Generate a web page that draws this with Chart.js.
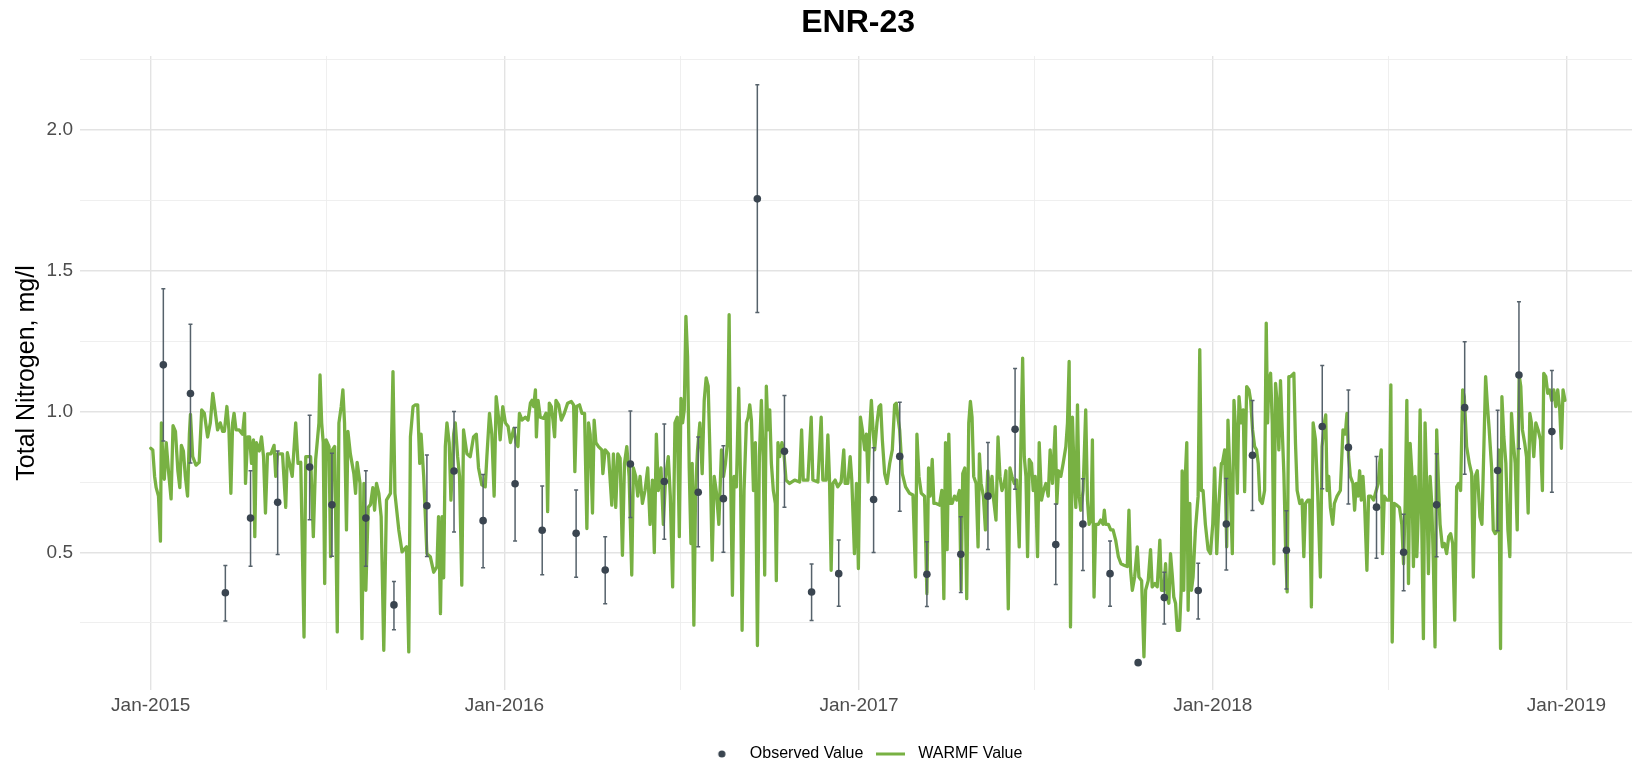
<!DOCTYPE html>
<html>
<head>
<meta charset="utf-8">
<script src="https://cdn.jsdelivr.net/npm/chart.js@4.4.1/dist/chart.umd.min.js"></script>
<style>
  html, body { margin: 0; padding: 0; background: #ffffff; overflow: hidden; }
  #wrap { width: 1632px; height: 762px; overflow: hidden; position: relative; }
  canvas { display: block; }
</style>
</head>
<body>
<div id="wrap"><canvas id="chart" width="1640" height="772"></canvas></div>
<script>
// ---------- DATA (days since 2015-01-01) ----------
const chartTitle = 'ENR-23';
const yAxisTitle = 'Total Nitrogen, mg/l';
const legendLabels = ['Observed Value', 'WARMF Value'];

const xTickDays = [0, 365, 731, 1096, 1461];
const xTickLabels = ['Jan-2015', 'Jan-2016', 'Jan-2017', 'Jan-2018', 'Jan-2019'];
const xMinorDays = [181, 547, 912, 1277];
const yTickValues = [0.5, 1.0, 1.5, 2.0];
const yMinorValues = [0.25, 0.75, 1.25, 1.75, 2.25];

const obsDays = [13, 41, 77, 103, 131, 164, 187, 222, 251, 285, 313, 343, 376, 404, 439, 469, 495, 530, 565, 591,
  626, 654, 682, 710, 746, 773, 801, 836, 864, 892, 934, 962, 990, 1019, 1046, 1081, 1110, 1137, 1172, 1209,
  1236, 1265, 1293, 1327, 1356, 1390, 1412, 1446];
const obsValues = [1.166, 1.064, 0.357, 0.622, 0.678, 0.803, 0.669, 0.622, 0.314, 0.666, 0.789, 0.613, 0.744, 0.579, 0.568, 0.438, 0.814, 0.752, 0.714, 0.691,
  1.755, 0.859, 0.360, 0.425, 0.688, 0.841, 0.423, 0.494, 0.700, 0.937, 0.528, 0.601, 0.425, 0.109, 0.340, 0.365, 0.601, 0.845, 0.508, 0.947,
  0.873, 0.661, 0.501, 0.669, 1.014, 0.791, 1.130, 0.929];
const obsLower = [0.896, 0.818, 0.257, 0.451, 0.493, 0.616, 0.487, 0.451, 0.226, 0.486, 0.573, 0.446, 0.541, 0.421, 0.412, 0.318, 0.624, 0.547, 0.520, 0.501,
  1.352, 0.661, 0.259, 0.309, 0.500, 0.646, 0.308, 0.358, 0.511, 0.724, 0.386, 0.436, 0.309, null, 0.246, 0.264, 0.438, 0.649, 0.370, 0.726,
  0.672, 0.480, 0.364, 0.485, 0.778, 0.577, 0.868, 0.714];
const obsUpper = [1.436, 1.310, 0.454, 0.790, 0.860, 0.987, 0.852, 0.790, 0.397, 0.846, 1.000, 0.777, 0.944, 0.736, 0.722, 0.556, 1.002, 0.956, 0.910, 0.879,
  2.160, 1.057, 0.459, 0.544, 0.872, 1.033, 0.538, 0.627, 0.890, 1.153, 0.672, 0.762, 0.541, null, 0.430, 0.462, 0.763, 1.039, 0.648, 1.164,
  1.077, 0.841, 0.636, 0.850, 1.248, 1.005, 1.390, 1.146];

// WARMF simulated series: [day, value]
const warmfSeries = [
[0,0.87],[2.1,0.864],[4,0.77],[5.6,0.73],[8,0.70],[10,0.54],[11,0.96],[12.4,0.84],[14,0.76],[16,0.89],[18.3,0.79],[21,0.69],[23,0.95],[25.5,0.93],[28,0.79],[30,0.73],[31.6,0.88],[33.7,0.86],[35.7,0.77],[38,0.70],
[39.9,0.92],[41,0.99],[43.3,0.84],[46.7,0.81],[50,0.82],[52.6,1.006],[55.3,0.994],[58.7,0.91],[61.5,0.96],[64,1.065],[66.3,1.006],[69,0.935],[71.8,0.96],[74.2,0.93],[76,0.93],[78.6,1.018],[80.7,0.935],[82.7,0.71],[84.5,0.96],[86,0.994],
[88,0.935],[91.3,0.935],[94.7,0.92],[96.8,0.994],[97.8,0.745],[100,0.91],[102,0.91],[104,0.816],[106,0.90],[107.4,0.556],[109,0.89],[112,0.86],[114.3,0.91],[116.4,0.84],[118.4,0.64],[120.5,0.85],[124,0.85],[127.3,0.88],[129,0.77],[130.8,0.85],
[136,0.85],[139.3,0.66],[141,0.854],[146,0.77],[149.6,0.96],[152,0.816],[154.8,0.82],[158.2,0.20],[160,0.84],[165,0.84],[167.8,0.556],[170.2,0.83],[173.6,0.96],[174.7,1.13],[176.4,0.96],[178,0.89],[179.5,0.39],[181,0.90],[184,0.876],[185.6,0.485],
[187.4,0.864],[189.8,0.876],[192.5,0.218],[194.2,0.96],[196.6,1.018],[198.3,1.077],[200,0.96],[202,0.58],[203.5,0.93],[206,0.85],[209.6,0.78],[211.4,0.71],[213,0.82],[216,0.745],[218,0.194],[220,0.745],[222,0.366],[224.4,0.66],[226.8,0.67],[229.2,0.73],
[231,0.65],[233,0.745],[235.4,0.71],[237.8,0.627],[240.5,0.153],[243.3,0.686],[247.4,0.71],[250,1.142],[252,0.71],[256,0.58],[259.4,0.502],[264,0.52],[266.3,0.147],[268,0.91],[270.7,1.018],[273.1,1.024],[275.5,1.024],[277.6,0.816],[279,0.92],[281.7,0.77],
[285,0.496],[288.5,0.485],[292,0.43],[295.4,0.45],[297,0.627],[299,0.283],[300.6,0.627],[302.3,0.41],[304,0.876],[305.7,0.96],[308,0.89],[309.8,0.686],[312.6,0.92],[314.3,0.96],[316.7,0.84],[318.7,0.77],[321,0.384],[322.8,0.935],[326.3,0.85],[329.7,0.84],
[333.1,0.91],[336,0.92],[338.3,0.80],[341.7,0.74],[345.2,0.733],[346.9,0.84],[349.6,0.994],[352,0.92],[354.4,0.70],[356.5,1.053],[358.9,0.98],[360.6,0.90],[363.3,1.018],
[366,0.96],[368.8,0.947],[371.2,0.89],[374.6,0.94],[377,0.89],[379,0.876],[380.5,0.994],[383.2,0.97],[386.6,0.98],[389.4,0.97],[391.8,1.03],[393.5,1.04],[395.2,1.018],[397,1.077],[398,0.91],[399.7,1.04],[402,0.98],[405.5,0.976],[407.9,0.994],[409.6,0.645],
[411.3,1.03],[413.4,1.018],[415.1,0.97],[416.8,0.91],[418.2,1.04],[421,1.024],[423.7,0.97],[426.8,0.994],[430.2,1.03],[434,1.036],[436.4,1.024],[437.7,0.787],[439.5,1.018],[442.5,1.024],[445,0.994],[447.7,0.994],[450.1,0.585],[451.8,0.96],[453.5,0.92],[455.9,0.64],
[457.6,0.97],[459.4,0.89],[462.1,0.876],[465.5,0.864],[466.6,0.78],[469,0.864],[472.4,0.85],[475.8,0.668],[477.5,0.85],[479.9,0.66],[482,0.85],[484.4,0.834],[486.8,0.49],[488.9,0.816],[491.3,0.876],[493.7,0.77],[496.4,0.42],[498.1,0.80],[500.5,0.77],[502.6,0.70],
[505,0.77],[507.4,0.674],[510.1,0.72],[512.9,0.80],[515.3,0.60],[517.7,0.757],[519.7,0.50],[521.8,0.92],[523.8,0.72],[526.6,0.80],[529,0.60],[531.4,0.77],[534.1,0.84],[536.2,0.70],[538.6,0.378],[541,0.96],[543.4,0.98],[545.5,0.556],[547.2,1.047],[548.9,0.96],
[550.6,1.006],[552.3,1.338],[554,1.195],[555.7,0.80],[557.5,0.532],[558.8,0.816],[560.5,0.242],[562.3,0.72],[564.3,0.864],[566.7,0.96],[569.1,0.78],[571.2,1.04],[573.2,1.12],[575.3,1.09],[577.4,0.816],[579.4,0.473],[581.5,0.77],[583.9,0.71],[586.3,0.60],[589,0.864],
[591.1,0.77],[593.1,0.816],[595.2,0.89],[596.9,1.344],[598.6,0.745],[600.3,0.348],[602,0.77],[604.4,0.733],[606.8,1.083],[608.6,0.77],[610.3,0.224],[612.3,0.72],[614.7,0.96],[616.5,0.98],[618.2,1.024],[619.9,0.97],[622,0.72],[624,0.89],[626.1,0.17],[628.1,0.84],
[630.2,1.04],[632.2,0.816],[633.6,0.42],[635.3,1.09],[637,0.935],[638.8,1.006],[640.5,0.816],[642.5,0.72],[644.6,0.674],[645.6,0.40],[647.3,0.89],[649,0.84],[651.4,0.89],[653.5,0.85],[655.6,0.757],[659.3,0.745],[664.5,0.757],[669.6,0.75],[671.7,0.935],[673.4,0.757],
[678.2,0.757],[681.6,0.98],[683.3,0.757],[688.5,0.75],[691.9,0.98],[693.6,0.757],[697,0.757],[698.8,0.917],[700.5,0.757],[702.2,0.437],[703.9,0.745],[706.3,0.757],[709,0.733],[712.5,0.75],[715.2,0.864],[716.6,0.745],[719.4,0.745],[721.8,0.84],[723.5,0.757],[726.2,0.496],
[728.3,0.745],[730.3,0.443],[732.4,0.98],[734.4,0.935],
[736.8,0.864],[738.6,0.92],[740.3,0.75],[742,0.935],[743.7,1.04],[745.4,0.935],[747.1,0.864],[749.5,0.96],[751.6,1.018],[753.3,1.024],[755,0.90],[757.4,0.78],[759.8,0.745],[762.6,0.816],[765.3,0.864],[767.7,1.024],[769.4,1.03],[771.1,0.98],[772.9,0.935],[775.6,0.78],
[779,0.733],[783.1,0.71],[786.6,0.704],[789.3,0.413],[790.7,0.92],[792.8,0.77],[795.2,0.71],[798.6,0.70],[801,0.354],[802.7,0.80],[804.4,0.70],[806.5,0.83],[808.2,0.674],[810.6,0.674],[814,0.668],[816.4,0.72],[818.5,0.336],[820.2,0.89],[821.9,0.51],[823.6,0.92],
[825.3,0.674],[827,0.674],[829.5,0.70],[831.9,0.686],[834.6,0.72],[836.3,0.366],[838,0.78],[840.1,0.80],[842.1,0.336],[844.2,0.96],[845.9,1.036],[847.6,0.98],[849.3,0.77],[851.8,0.745],[853.8,0.52],[855.2,0.85],[856.9,0.745],[859.3,0.70],[861.4,0.58],[863.8,0.79],
[866.1,0.70],[868.2,0.77],[869.9,0.686],[872.3,0.615],[874.4,0.91],[876.4,0.77],[878.5,0.72],[880.9,0.745],[882.6,0.79],[885,0.30],[886.7,0.80],[888.8,0.77],[891.2,0.745],[893.6,0.757],[896.3,0.52],[898.1,0.90],[899.8,1.19],[901.5,0.84],[903.2,0.77],[904.9,0.485],
[906.6,0.83],[909,0.816],[910.7,0.72],[912.8,0.77],[915.2,0.485],[916.9,0.89],[919.3,0.686],[921.4,0.72],[923.8,0.745],[926.2,0.70],[928.2,0.864],[930.6,0.745],[933.4,0.947],[935.1,0.674],[936.8,0.79],[939.2,0.77],[941.6,0.816],[944.4,0.876],[946.1,0.96],[947.8,1.178],
[949.2,0.236],[951.2,0.98],[953,0.77],[954.7,0.66],[956.4,1.024],[958.1,0.70],[959.8,0.65],[962.2,0.72],[964.9,1.006],[966.7,0.686],[968.4,0.60],[970.4,0.615],[971.8,0.90],[973.5,0.342],[975.2,0.60],[978,0.60],[980.4,0.615],[982.8,0.60],[984.1,0.65],[985.5,0.60],
[988.3,0.60],[990.7,0.58],[993.1,0.58],[995.8,0.544],[998.6,0.485],[1001.3,0.46],[1004.4,0.455],[1007.8,0.45],[1009.5,0.65],[1011.2,0.437],[1013,0.366],[1015.4,0.413],[1018.1,0.52],[1019.8,0.413],[1022.6,0.40],[1025,0.13],[1026.7,0.366],[1029.4,0.40],[1031.8,0.51],[1033.5,0.378],
[1036.3,0.39],[1038.7,0.378],[1041.4,0.544],[1043.1,0.366],[1045.5,0.366],[1047.3,0.46],[1049,0.342],[1050.7,0.32],[1052.4,0.496],[1054.1,0.425],[1055.8,0.342],[1057.6,0.32],[1059.3,0.224],[1061.7,0.224],[1063.4,0.366],[1064.4,0.79],[1066.1,0.366],[1067.8,0.78],[1069.2,0.89],[1070.6,0.295],
[1072.3,0.674],[1074,0.366],[1075.7,0.413],[1078.1,0.58],[1080.9,0.70],[1082.6,1.22],[1084.3,0.72],[1086,0.72],[1088.4,0.60],[1091.2,0.51],[1093.6,0.496],[1096,0.60],[1098,0.80],[1100.1,0.496],[1102.1,0.66],[1104.9,0.816],
[1105.9,0.816],[1108.3,0.864],[1110.4,0.52],[1111.7,0.97],[1113.8,0.77],[1116.2,0.496],[1117.9,1.04],[1119.6,0.935],[1121.4,0.71],[1123.1,1.053],[1125.5,0.96],[1127.5,1.006],[1128.9,0.716],[1131,1.089],[1133.4,1.077],[1135.1,1.04],[1137.1,0.935],[1139.2,0.876],[1141.2,0.864],[1142.9,0.816],
[1144.7,0.686],[1147.1,0.674],[1149.5,0.72],[1151.2,1.314],[1152.6,0.96],[1153.9,1.11],[1155.7,1.136],[1157.4,0.96],[1159.1,0.46],[1160.8,1.10],[1162.5,1.03],[1164.2,0.864],[1165.9,1.11],[1167.7,0.935],[1169.4,0.78],[1171.4,0.485],[1172.8,0.36],[1174.5,1.124],[1176.2,1.124],[1178,1.13],
[1179.7,1.136],[1181.4,0.887],[1183.1,0.72],[1185.8,0.674],[1188.2,0.686],[1190,0.485],[1191.7,0.674],[1194.1,0.686],[1196.1,0.686],[1197.8,0.307],[1199.6,0.96],[1202,0.90],[1204.4,0.70],[1207.1,0.413],[1208.8,0.876],[1211.2,0.96],[1212.6,0.988],[1214,0.72],[1215.7,0.77],[1217.4,0.66],
[1219.8,0.60],[1221.5,0.674],[1224.3,0.70],[1227.7,0.72],[1230.4,0.935],[1232.8,0.92],[1234.5,0.994],[1236.2,0.84],[1238,0.77],[1240.7,0.745],[1242.4,0.65],[1244.1,0.745],[1245.9,0.70],[1247.6,0.79],[1249.3,0.686],[1251,0.77],[1252.7,0.674],[1255.1,0.437],[1256.8,0.70],[1259.2,0.70],
[1262,0.686],[1264.7,0.72],[1266.8,0.745],[1268.2,0.816],[1269.9,0.864],[1271.2,0.496],[1273,0.70],[1275.7,0.686],[1278.4,0.686],[1279.8,1.095],[1281.2,0.182],[1283.2,0.674],[1286,0.668],[1288.7,0.66],[1291.1,0.60],[1292.9,0.46],[1294.6,0.674],[1296.3,1.04],[1298,0.39],[1299.7,0.887],
[1301.4,0.79],[1303.1,0.45],[1304.9,0.77],[1306.6,0.485],[1308.3,0.66],[1310,1.006],[1311.7,0.60],[1313.4,0.194],[1315.1,0.96],[1316.9,0.72],[1318.6,0.425],[1320.3,0.77],[1322,0.674],[1323.7,0.46],[1325.4,0.165],[1327.1,0.935],[1328.9,0.745],[1330.6,0.60],[1333,0.52],[1335,0.532],
[1337.4,0.496],[1339.5,0.556],[1341.5,0.567],[1343.6,0.532],[1345.7,0.26],[1347.7,0.733],[1349.8,0.745],[1351.8,0.72],[1353.9,1.077],[1355.6,1.053],[1358,0.876],[1360.8,0.816],[1363.2,0.78],[1364.9,0.413],[1366.9,0.77],[1369,0.79],[1371.7,0.627],[1373.8,0.60],[1375.9,0.887],[1377.6,1.124],
[1379.3,1.03],[1381.3,0.935],[1383.8,0.80],[1385.5,0.58],[1387.5,0.567],[1389.6,0.58],[1391,0.864],[1393,0.159],[1394.4,1.053],[1396.4,0.91],[1398.5,0.816],[1400.6,0.58],[1402.6,0.485],[1404.3,0.994],[1406,0.90],[1408.1,0.816],[1410.2,0.58],[1412.2,1.13],[1413.9,1.089],[1415.6,0.935],
[1418,0.887],[1419.8,0.84],[1421.5,0.64],[1423.2,0.994],[1424.9,0.96],[1427.3,0.84],[1429.4,0.96],[1431.8,0.935],[1434.2,0.90],[1436.2,0.72],[1437.6,1.136],[1439.7,1.124],[1441.7,1.065],[1443.8,1.077],[1445.8,1.04],[1447.9,1.077],[1450,1.018],[1452,1.077],[1454.1,1.006],[1455.8,0.87],
[1457.5,1.077],[1459.5,1.04]
];

// ---------- STYLE ----------
const FONT = "'Liberation Sans', Arial, Helvetica, sans-serif";
const GREEN = '#78b143';
const OBS_COLOR = '#3a4550';
const ERR_COLOR = '#56626b';
const TICK_COLOR = '#4d4d4d';

function isNear(a, list) { return list.some(v => Math.abs(v - a) < 1e-6); }

function makeDotIcon() {
  const c = document.createElement('canvas');
  c.width = 10; c.height = 10;
  const g = c.getContext('2d');
  g.fillStyle = OBS_COLOR;
  g.beginPath(); g.arc(5, 5, 3.6, 0, Math.PI * 2); g.fill();
  return c;
}
function makeLineIcon() {
  const c = document.createElement('canvas');
  c.width = 29; c.height = 4;
  const g = c.getContext('2d');
  g.fillStyle = GREEN;
  g.fillRect(0, 0.5, 29, 3);
  return c;
}
const dotIcon = makeDotIcon();
const lineIcon = makeLineIcon();

const errorBarsPlugin = {
  id: 'errorBars',
  beforeDatasetDraw(chart, args) {
    if (args.index !== 0) return;
    const {ctx, scales} = chart;
    const xs = scales.x, ys = scales.y;
    ctx.save();
    ctx.strokeStyle = ERR_COLOR;
    ctx.lineWidth = 1.5;
    obsDays.forEach((d, i) => {
      if (obsLower[i] == null || obsUpper[i] == null) return;
      const px = xs.getPixelForValue(d);
      const yl = ys.getPixelForValue(obsLower[i]);
      const yu = ys.getPixelForValue(obsUpper[i]);
      ctx.beginPath();
      ctx.moveTo(px, yl); ctx.lineTo(px, yu);
      ctx.moveTo(px - 2, yl); ctx.lineTo(px + 2, yl);
      ctx.moveTo(px - 2, yu); ctx.lineTo(px + 2, yu);
      ctx.stroke();
    });
    ctx.restore();
  }
};

// shift the legend block slightly to the right, as in the reference
const legendShiftPlugin = {
  id: 'legendShift',
  afterLayout(chart) {
    if (chart.legend) { chart.legend.left += 4; chart.legend.right += 4; }
  }
};

const ctx = document.getElementById('chart').getContext('2d');
new Chart(ctx, {
  type: 'line',
  data: {
    datasets: [
      {
        type: 'scatter',
        label: legendLabels[0],
        data: obsDays.map((d, i) => ({x: d, y: obsValues[i]})),
        backgroundColor: OBS_COLOR,
        borderColor: OBS_COLOR,
        pointRadius: 3.8,
        pointHoverRadius: 3.8,
        borderWidth: 0,
        order: 0
      },
      {
        type: 'line',
        label: legendLabels[1],
        data: warmfSeries.map(p => ({x: p[0], y: p[1]})),
        borderColor: GREEN,
        borderWidth: 3.3,
        pointRadius: 0,
        tension: 0,
        borderJoinStyle: 'round',
        borderCapStyle: 'round',
        fill: false,
        order: 1
      }
    ]
  },
  options: {
    responsive: false,
    animation: false,
    events: [],
    layout: { padding: 0 },
    scales: {
      x: {
        type: 'linear',
        min: -73,
        max: 1533,
        afterBuildTicks(scale) {
          const all = xTickDays.concat(xMinorDays).sort((a, b) => a - b);
          scale.ticks = all.map(v => ({value: v}));
        },
        afterFit(scale) { scale.height = 49; },
        ticks: {
          autoSkip: false,
          maxRotation: 0,
          padding: 4,
          color: TICK_COLOR,
          font: { family: FONT, size: 19 },
          callback(value) {
            const i = xTickDays.findIndex(v => Math.abs(v - value) < 1e-6);
            return i >= 0 ? xTickLabels[i] : '';
          }
        },
        grid: {
          drawTicks: false,
          color(c) { return isNear(c.tick.value, xTickDays) ? '#e3e3e3' : '#ededed'; },
          lineWidth(c) { return isNear(c.tick.value, xTickDays) ? 1.4 : 0.9; }
        },
        border: { display: false }
      },
      y: {
        type: 'linear',
        min: 0.012,
        max: 2.262,
        afterBuildTicks(scale) {
          const all = yTickValues.concat(yMinorValues).sort((a, b) => a - b);
          scale.ticks = all.map(v => ({value: v}));
        },
        afterFit(scale) { scale.width = 80; },
        ticks: {
          padding: 7,
          color: TICK_COLOR,
          font: { family: FONT, size: 19 },
          callback(value) {
            return isNear(value, yTickValues) ? value.toFixed(1) : '';
          }
        },
        grid: {
          drawTicks: false,
          color(c) { return isNear(c.tick.value, yTickValues) ? '#e3e3e3' : '#ededed'; },
          lineWidth(c) { return isNear(c.tick.value, yTickValues) ? 1.4 : 0.9; }
        },
        border: { display: false },
        title: {
          display: true,
          text: yAxisTitle,
          color: '#000000',
          font: { family: FONT, size: 25 },
          padding: { top: 12, bottom: 0 }
        }
      }
    },
    plugins: {
      title: {
        display: true,
        text: chartTitle,
        fullSize: false,
        color: '#000000',
        font: { family: FONT, size: 32, weight: 'bold' },
        padding: { top: 3.5, bottom: 14.1 }
      },
      legend: {
        display: true,
        position: 'bottom',
        fullSize: false,
        labels: {
          usePointStyle: true,
          pointStyleWidth: 40,
          padding: 7,
          color: '#000000',
          font: { family: FONT, size: 16 },
          generateLabels() {
            return [
              { text: legendLabels[0], pointStyle: dotIcon, datasetIndex: 0, hidden: false, lineWidth: 0, fillStyle: OBS_COLOR, strokeStyle: OBS_COLOR, fontColor: '#000000' },
              { text: legendLabels[1], pointStyle: lineIcon, datasetIndex: 1, hidden: false, lineWidth: 0, fillStyle: GREEN, strokeStyle: GREEN, fontColor: '#000000' }
            ];
          }
        }
      },
      tooltip: { enabled: false }
    }
  },
  plugins: [errorBarsPlugin, legendShiftPlugin]
});
</script>
</body>
</html>
